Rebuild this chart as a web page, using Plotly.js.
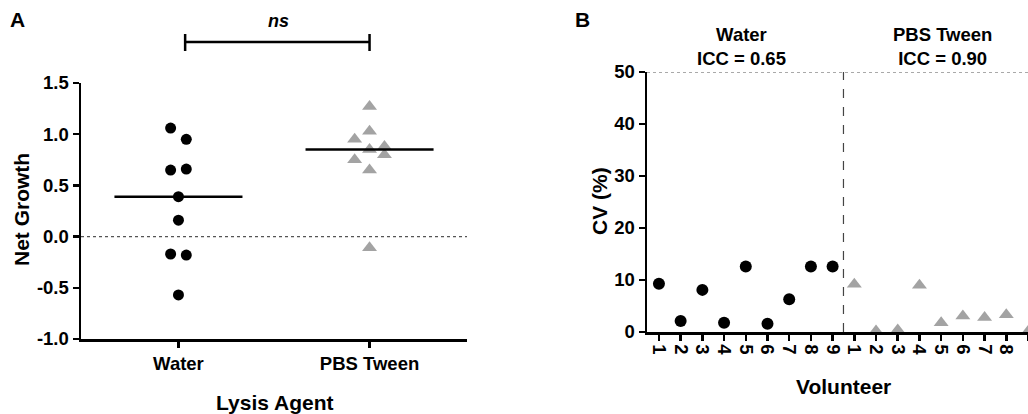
<!DOCTYPE html>
<html>
<head>
<meta charset="utf-8">
<script src="https://cdn.plot.ly/plotly-3.0.1.min.js"></script>
<style>html,body{margin:0;padding:0;background:#fff}#chart{width:1028px;height:414px}</style>
</head>
<body>
<div id="chart"></div>
<script>
// ---------- Data: Panel A (Net Growth by lysis agent) ----------
const groupsA = ['Water', 'PBS Tween'];
const waterNet = [1.06, 0.95, 0.65, 0.66, 0.39, 0.16, -0.17, -0.18, -0.57];
const waterSlot = [-1, 1, -1, 1, 0, 0, -1, 1, 0];
const pbsNet = [1.27, 1.03, 0.95, 0.88, 0.85, 0.80, 0.75, 0.65, -0.11];
const pbsSlot = [0, 0, -1, 1, 0, 1, -1, 0, 0];
const yTicksA = [-1.0, -0.5, 0.0, 0.5, 1.0, 1.5];
const sigLabel = 'ns';

// ---------- Data: Panel B (CV per volunteer) ----------
const volunteers = ['1','2','3','4','5','6','7','8','9'];
const waterCV = [9.3, 2.1, 8.1, 1.8, 12.6, 1.6, 6.3, 12.6, 12.6];
const pbsCV = [9.2, 0.2, 0.4, 9.0, 1.8, 3.1, 2.8, 3.3, 0.1];
const iccLabels = ['Water<br>ICC = 0.65', 'PBS Tween<br>ICC = 0.90'];
const yTicksB = [0, 10, 20, 30, 40, 50];

function median(a){const s=[...a].sort((p,q)=>p-q);const m=Math.floor(s.length/2);return s.length%2?s[m]:(s[m-1]+s[m])/2;}

const FONT = 'Liberation Sans, Arial, sans-serif';
const GRAY = '#a3a3a3';
const W = 1028, H = 414;
const px = v => v / W;
const py = v => (H - v) / H;

const waterX = waterNet.map((_, i) => 1 + waterSlot[i] * 0.041);
const pbsX = pbsNet.map((_, i) => 2 + pbsSlot[i] * 0.078);

const xB1 = volunteers.map((_, i) => i);
const xB2 = volunteers.map((_, i) => i + volunteers.length);

const traces = [
  {x: waterX, y: waterNet, type: 'scatter', mode: 'markers', xaxis: 'x', yaxis: 'y',
   marker: {symbol: 'circle', size: 11, color: '#000'}, cliponaxis: false, hoverinfo: 'y'},
  {x: pbsX, y: pbsNet, type: 'scatter', mode: 'markers', xaxis: 'x', yaxis: 'y',
   marker: {symbol: 'triangle-up', size: 13, color: GRAY}, cliponaxis: false, hoverinfo: 'y'},
  {x: [0.665, 1.335], y: [median(waterNet), median(waterNet)], type: 'scatter', mode: 'lines',
   xaxis: 'x', yaxis: 'y', line: {color: '#000', width: 2.5}, hoverinfo: 'skip'},
  {x: [1.665, 2.335], y: [median(pbsNet), median(pbsNet)], type: 'scatter', mode: 'lines',
   xaxis: 'x', yaxis: 'y', line: {color: '#000', width: 2.5}, hoverinfo: 'skip'},
  {x: xB1, y: waterCV, type: 'scatter', mode: 'markers', xaxis: 'x2', yaxis: 'y2',
   marker: {symbol: 'circle', size: 12, color: '#000'}, cliponaxis: false, hoverinfo: 'y'},
  {x: xB2, y: pbsCV, type: 'scatter', mode: 'markers', xaxis: 'x2', yaxis: 'y2',
   marker: {symbol: 'triangle-up', size: 13, color: GRAY}, cliponaxis: true, hoverinfo: 'y'}
];

const tickFont = {family: FONT, size: 18.5, color: '#000', weight: 'bold'};
const titleFont = {family: FONT, size: 21, color: '#000', weight: 'bold'};

function ann(text, x, y, font, extra) {
  return Object.assign({text: text, xref: 'paper', yref: 'paper', x: px(x), y: py(y),
    xanchor: 'center', yanchor: 'middle', showarrow: false, font: font}, extra || {});
}

const layout = {
  width: W, height: H,
  margin: {l: 0, r: 0, t: 0, b: 0},
  paper_bgcolor: '#fff', plot_bgcolor: 'rgba(0,0,0,0)',
  showlegend: false,
  font: {family: FONT, color: '#000'},
  xaxis: {domain: [px(81), px(467)], range: [0.49, 2.51], tickvals: [1, 2], ticktext: groupsA,
          showline: true, linecolor: '#000', linewidth: 2.5, ticks: 'outside', ticklen: 6, tickwidth: 2.5,
          tickcolor: '#000', showgrid: false, zeroline: false, tickfont: tickFont, fixedrange: true},
  yaxis: {domain: [py(339), py(83)], range: [-1.0, 1.5], tickvals: yTicksA, ticktext: yTicksA.map(v => v.toFixed(1)),
          showline: true, linecolor: '#000', linewidth: 2.5, ticks: 'outside', ticklen: 6, tickwidth: 2.5,
          tickcolor: '#000', showgrid: false, zeroline: false, tickfont: tickFont, fixedrange: true},
  xaxis2: {domain: [px(647), 1], range: [-0.55, 17.0], tickvals: xB1.concat(xB2),
           ticktext: volunteers.concat(volunteers), tickangle: 90,
           showline: true, linecolor: '#000', linewidth: 2.5, ticks: 'outside', ticklen: 6, tickwidth: 2.5,
           tickcolor: '#000', showgrid: false, zeroline: false, tickfont: tickFont, anchor: 'y2', fixedrange: true},
  yaxis2: {domain: [py(332), py(72)], range: [0, 50], tickvals: yTicksB,
           showline: true, linecolor: '#000', linewidth: 2.5, ticks: 'outside', ticklen: 6, tickwidth: 2.5,
           tickcolor: '#000', showgrid: false, zeroline: false, tickfont: tickFont, anchor: 'x2', fixedrange: true},
  shapes: [
    {type: 'line', xref: 'x domain', yref: 'y', x0: 0, x1: 1, y0: 0, y1: 0,
     line: {color: '#555', width: 1.2, dash: 'dot'}},
    {type: 'line', xref: 'x', yref: 'paper', x0: 1.035, x1: 2.0, y0: py(42), y1: py(42), line: {color: '#000', width: 2.5}},
    {type: 'line', xref: 'x', yref: 'paper', x0: 1.035, x1: 1.035, y0: py(34), y1: py(51), line: {color: '#000', width: 2.5}},
    {type: 'line', xref: 'x', yref: 'paper', x0: 2.0, x1: 2.0, y0: py(34), y1: py(51), line: {color: '#000', width: 2.5}},
    {type: 'line', xref: 'x2 domain', yref: 'y2', x0: 0, x1: 1, y0: 50, y1: 50,
     line: {color: '#555', width: 1.2, dash: 'dot'}},
    {type: 'line', xref: 'x2', yref: 'y2', x0: volunteers.length - 0.5, x1: volunteers.length - 0.5, y0: 0, y1: 50,
     line: {color: '#444', width: 1.2, dash: 'dash'}}
  ],
  annotations: [
    ann('A', 17, 20, {family: FONT, size: 21, weight: 'bold', color: '#000'}),
    ann('B', 582, 20, {family: FONT, size: 21, weight: 'bold', color: '#000'}),
    ann(sigLabel, 278, 21, {family: FONT, size: 18, weight: 'bold', style: 'italic', color: '#000'}),
    ann('Net Growth', 21, 210, titleFont, {textangle: -90}),
    ann('Lysis Agent', 274, 402, titleFont),
    ann('CV (%)', 599, 201, titleFont, {textangle: -90}),
    ann('Volunteer', 843, 386, titleFont),
    ann(iccLabels[0], 741, 46, tickFont),
    ann(iccLabels[1], 942, 46, tickFont)
  ]
};

Plotly.newPlot('chart', traces, layout, {displayModeBar: false, staticPlot: true});
</script>
</body>
</html>
